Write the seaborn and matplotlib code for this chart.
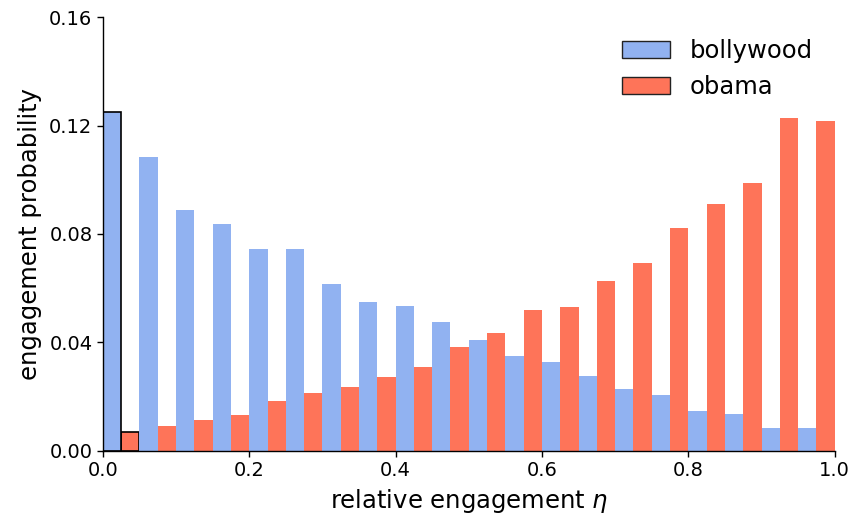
import numpy as np
import pandas as pd
import matplotlib
matplotlib.use("Agg")
import matplotlib.pyplot as plt
from matplotlib.patches import Patch
import seaborn as sns

# Engagement probability per bin of relative engagement (20 bins over [0, 1])
n_bins = 20
bollywood = [0.1250, 0.1084, 0.0888, 0.0837, 0.0745, 0.0745, 0.0616, 0.0550, 0.0535, 0.0474,
             0.0409, 0.0350, 0.0326, 0.0277, 0.0229, 0.0205, 0.0147, 0.0136, 0.0084, 0.0084]
obama = [0.0070, 0.0092, 0.0112, 0.0132, 0.0184, 0.0213, 0.0237, 0.0274, 0.0311, 0.0382,
         0.0434, 0.0519, 0.0531, 0.0627, 0.0692, 0.0821, 0.0909, 0.0989, 0.1227, 0.1218]
series = ["bollywood", "obama"]
colors = {"bollywood": "#91b2f1", "obama": "#fe7459"}

bin_edges = np.linspace(0.0, 1.0, n_bins + 1)
centers = (bin_edges[:-1] + bin_edges[1:]) / 2
df = pd.DataFrame({
    "eta": np.concatenate([centers, centers]),
    "prob": np.concatenate([bollywood, obama]),
    "channel": ["bollywood"] * n_bins + ["obama"] * n_bins,
})

sns.set_style("white")
plt.rcParams.update({"text.color": "black", "axes.labelcolor": "black",
                     "xtick.color": "black", "ytick.color": "black"})
fig = plt.figure(figsize=(8.5, 5.17), dpi=100)
ax = fig.add_axes([0.121, 0.128, 0.861, 0.839])

sns.histplot(data=df, x="eta", weights="prob", hue="channel", hue_order=series,
             bins=n_bins, binrange=(0.0, 1.0), multiple="dodge", shrink=1.0,
             palette=colors, alpha=1.0, linewidth=0, legend=False, ax=ax)

# outline the bars of the first bin
for p in ax.patches:
    if p.get_x() < 0.05 - 1e-9 and p.get_height() > 0:
        p.set_edgecolor("black")
        p.set_linewidth(1.2)

ax.set_xlim(0, 1.0)
ax.set_ylim(0, 0.16)
xt = np.arange(0, 1.01, 0.2)
yt = [0.0, 0.04, 0.08, 0.12, 0.16]
ax.set_xticks(xt)
ax.set_yticks(yt)
ax.set_xticklabels([f"{v:.1f}" for v in xt])
ax.set_yticklabels([f"{v:.2f}" for v in yt])
ax.tick_params(axis="both", labelsize=14, direction="out", length=4, width=1,
               left=True, bottom=True, colors="black")
ax.set_xlabel(r"relative engagement $\eta$", fontsize=17.5, labelpad=5)
ax.set_ylabel("engagement probability", fontsize=17.5, labelpad=5)
for s in ["top", "right"]:
    ax.spines[s].set_visible(False)
for s in ["left", "bottom"]:
    ax.spines[s].set_color("black")
    ax.spines[s].set_linewidth(1.0)

handles = [Patch(facecolor=colors[s], edgecolor="#222222", linewidth=1.0, label=s) for s in series]
ax.legend(handles=handles, loc="upper right", frameon=False, fontsize=17.5)

fig.savefig("out.png", dpi=100)
